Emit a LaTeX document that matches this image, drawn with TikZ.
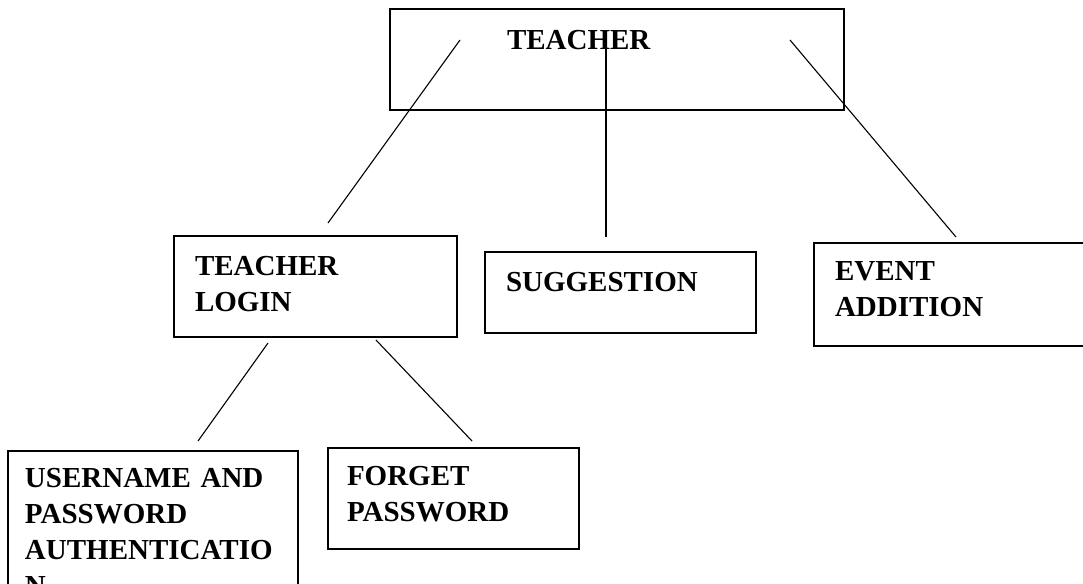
\documentclass[tikz,border=0pt]{standalone}
\usepackage{fontspec}
\setmainfont{Liberation Serif}
\usepackage{tikz}
\usetikzlibrary{shapes,positioning,calc}
\tikzstyle{module} = [rectangle, draw=black, line width=0.7pt, anchor=north west, inner ysep=0pt, outer sep=0pt, align=left, font=\bfseries\fontsize{14.5pt}{18pt}\selectfont]
\tikzstyle{link} = [line width=0.55pt]

\begin{document}
\begin{tikzpicture}[x=0.5pt,y=-0.5pt]
	\useasboundingbox (0,0) rectangle (1083,584);
	\clip (0,0) rectangle (1083,584);
	\node (Teacher) [module, inner xsep=58.5pt, text width=110pt, text height=20pt, text depth=30.5pt] at (390,9) {TEACHER};
	\node (Login) [module, inner xsep=10.5pt, text width=120.5pt, text height=19.5pt, text depth=31pt] at (174,236) {TEACHER\\LOGIN};
	\node (Suggestion) [module, inner xsep=10.5pt, text width=114.5pt, text height=19.5pt, text depth=21pt] at (485,252) {SUGGESTION};
	\node (Event) [module, inner xsep=10.5pt, text width=127pt, text height=18.5pt, text depth=33pt] at (814,243) {EVENT\\ADDITION};
	\node (Auth) [module, inner xsep=8.5pt, text width=128pt, text height=18pt, text depth=76.5pt] at (8,451) {USERNAME AND\\PASSWORD\\AUTHENTICATIO\\N};
	\node (Forget) [module, inner xsep=9.5pt, text width=106.5pt, text height=18.5pt, text depth=32pt] at (328,448) {FORGET\\PASSWORD};

	% free ends of the links
	\coordinate (TeacherL) at (460,40);
	\coordinate (TeacherM) at (606,47);
	\coordinate (TeacherR) at (790,40);
	\coordinate (LoginTop) at (328,223);
	\coordinate (SuggestionTop) at (606,237);
	\coordinate (EventTop) at (956,237);
	\coordinate (LoginL) at (268,343);
	\coordinate (LoginR) at (376,340);
	\coordinate (AuthTop) at (198,441);
	\coordinate (ForgetTop) at (472,441);

	\draw[link] (TeacherL) -- (LoginTop);
	\draw[link] (TeacherM) -- (SuggestionTop);
	\draw[link] (TeacherR) -- (EventTop);
	\draw[link] (LoginL) -- (AuthTop);
	\draw[link] (LoginR) -- (ForgetTop);
\end{tikzpicture}
\end{document}
